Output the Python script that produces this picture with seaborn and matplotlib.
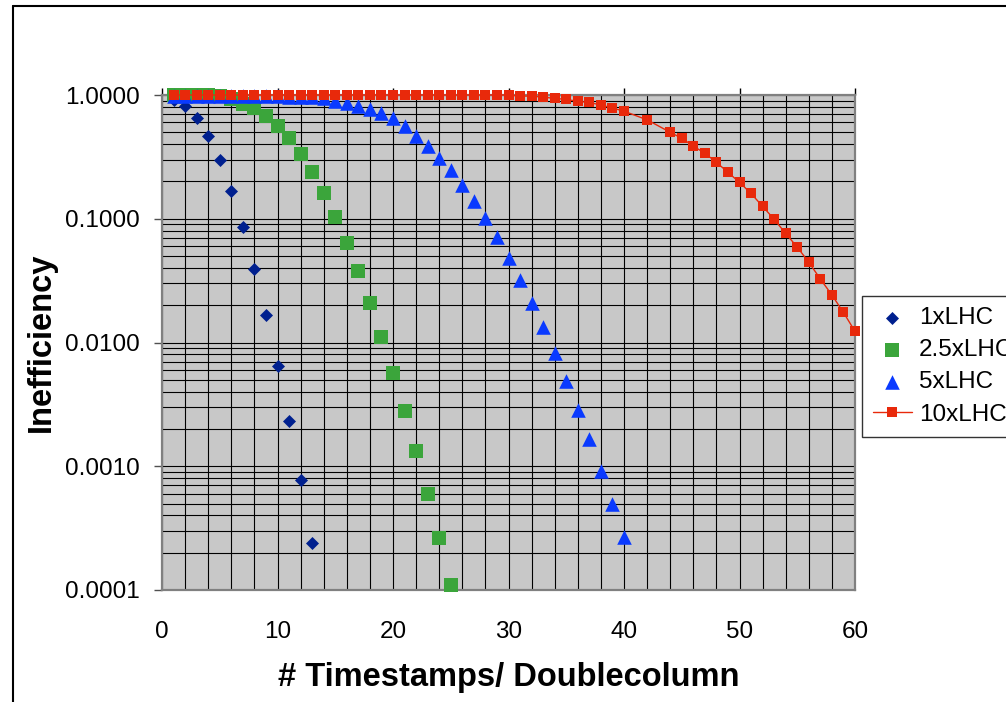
import matplotlib
matplotlib.use("Agg")
import matplotlib.pyplot as plt
from matplotlib.lines import Line2D
from matplotlib.ticker import MultipleLocator, LogLocator, NullFormatter, FuncFormatter
import seaborn as sns

# values (log scale)
x_1x = [1, 2, 3, 4, 5, 6, 7, 8, 9, 10, 11, 12, 13]
y_1x = [0.91, 0.82, 0.65, 0.47, 0.30, 0.168, 0.085, 0.039, 0.0167, 0.0065,
        0.00233, 0.00078, 0.00024]

x_25x = [1, 2, 3, 4, 5, 6, 7, 8, 9, 10, 11, 12, 13, 14, 15, 16, 17, 18, 19,
         20, 21, 22, 23, 24, 25]
y_25x = [1.0, 1.0, 1.0, 1.0, 0.98, 0.93, 0.85, 0.78, 0.68, 0.565, 0.447,
         0.334, 0.239, 0.162, 0.104, 0.064, 0.038, 0.021, 0.0111, 0.0057,
         0.0028, 0.00133, 0.0006, 0.000262, 0.00011]

x_5x = [1, 2, 3, 4, 5, 6, 7, 8, 9, 10, 11, 12, 13, 14, 15, 16, 17, 18, 19, 20,
        21, 22, 23, 24, 25, 26, 27, 28, 29, 30, 31, 32, 33, 34, 35, 36, 37, 38,
        39, 40]
y_5x = [0.99, 0.99, 0.99, 0.99, 0.99, 0.99, 0.99, 0.99, 0.99, 0.98, 0.97,
        0.97, 0.96, 0.94, 0.89, 0.86, 0.82, 0.77, 0.72, 0.65, 0.56, 0.47,
        0.39, 0.31, 0.248, 0.187, 0.14, 0.101, 0.071, 0.048, 0.032, 0.021,
        0.0133, 0.0082, 0.0049, 0.00285, 0.00165, 0.00092, 0.0005, 0.000267]

x_10x = [1, 2, 3, 4, 5, 6, 7, 8, 9, 10, 11, 12, 13, 14, 15, 16, 17, 18, 19,
         20, 21, 22, 23, 24, 25, 26, 27, 28, 29, 30, 31, 32, 33, 34, 35, 36,
         37, 38, 39, 40, 42, 44, 45, 46, 47, 48, 49, 50, 51, 52, 53, 54, 55,
         56, 57, 58, 59, 60]
y_10x = [1.0, 1.0, 1.0, 1.0, 1.0, 1.0, 1.0, 1.0, 1.0, 1.0, 1.0, 1.0, 1.0,
         1.0, 1.0, 1.0, 1.0, 1.0, 1.0, 1.0, 1.0, 1.0, 1.0, 1.0, 1.0, 1.0,
         1.0, 1.0, 1.0, 1.0, 0.98, 0.98, 0.96, 0.94, 0.92, 0.89, 0.87, 0.83,
         0.785, 0.74, 0.63, 0.50, 0.447, 0.387, 0.338, 0.286, 0.237, 0.197,
         0.160, 0.126, 0.099, 0.076, 0.059, 0.0445, 0.0326, 0.0242, 0.0175,
         0.0123]

labels = ["1xLHC", "2.5xLHC", "5xLHC", "10xLHC"]
colors = ["#00208F", "#3BA53B", "#0A3AFF", "#E8290B"]

sns.set_style("white")
plt.rcParams["font.family"] = ["Liberation Sans", "DejaVu Sans"]
plt.rcParams["text.color"] = "black"
plt.rcParams["axes.labelcolor"] = "black"

fig = plt.figure(figsize=(10.06, 7.02), dpi=100)
ax = fig.add_axes([162 / 1006, 1 - 590 / 702, (855 - 162) / 1006, (590 - 95) / 702])
ax.set_facecolor("#C8C8C8")

sns.scatterplot(x=x_1x, y=y_1x, marker="D", s=44, color=colors[0],
                linewidth=0, ax=ax, label=labels[0], clip_on=False, zorder=3)
sns.scatterplot(x=x_25x, y=y_25x, marker="s", s=100, color=colors[1],
                linewidth=0, ax=ax, label=labels[1], clip_on=False, zorder=4)
sns.scatterplot(x=x_5x, y=y_5x, marker="^", s=110, color=colors[2],
                linewidth=0, ax=ax, label=labels[2], clip_on=False, zorder=5)
sns.lineplot(x=x_10x, y=y_10x, marker="s", markersize=6.5, markeredgewidth=0,
             color=colors[3], linewidth=1, ax=ax, label=labels[3],
             clip_on=False, zorder=6)

ax.set_yscale("log")
ax.set_ylim(1e-4, 1)
ax.set_xlim(0, 60)

# grid: every 2 on x, every log sub-step on y
ax.xaxis.set_major_locator(MultipleLocator(10))
ax.xaxis.set_minor_locator(MultipleLocator(2))
ax.yaxis.set_major_locator(LogLocator(base=10))
ax.yaxis.set_minor_locator(LogLocator(base=10, subs=[2, 3, 4, 5, 6, 7, 8, 9]))
ax.yaxis.set_minor_formatter(NullFormatter())
ax.yaxis.set_major_formatter(FuncFormatter(lambda v, p: f"{v:.4f}"))
ax.grid(True, which="both", color="black", linewidth=0.8, zorder=1)
ax.set_axisbelow(True)

for side in ["left", "bottom", "right", "top"]:
    ax.spines[side].set_visible(True)
    ax.spines[side].set_color("#808080")
    ax.spines[side].set_linewidth(1.6)

ax.tick_params(axis="x", which="major", top=True, bottom=False,
               labeltop=False, labelbottom=True, direction="out",
               length=5, width=1, color="black", labelcolor="black",
               pad=17, labelsize=17.5)
ax.tick_params(axis="x", which="minor", top=False, bottom=False, length=0)
ax.tick_params(axis="y", which="major", left=True, direction="out",
               length=6, width=1, color="#505050", labelcolor="black",
               pad=10, labelsize=17.5)
ax.tick_params(axis="y", which="minor", left=False, length=0)

ax.set_xlabel("# Timestamps/ Doublecolumn", fontsize=23.5, fontweight="bold",
              labelpad=14)
ax.set_ylabel("Inefficiency", fontsize=23.5, fontweight="bold", labelpad=6)

handles, labs = ax.get_legend_handles_labels()
leg = ax.legend(handles, labs, loc="upper left",
                bbox_to_anchor=(862 / 1006, 1 - 296 / 702),
                bbox_transform=fig.transFigure, fontsize=17.5, frameon=True,
                fancybox=False, shadow=False, borderpad=0.45,
                labelspacing=0.42, handlelength=1.6, handletextpad=0.3,
                borderaxespad=0)
leg.get_frame().set_edgecolor("black")
leg.get_frame().set_linewidth(1.0)
leg.get_frame().set_facecolor("white")

# outer chart frame (cut off at right and bottom)
fig.add_artist(Line2D([13 / 1006, 13 / 1006], [0, 1 - 6 / 702],
                      transform=fig.transFigure, color="black", linewidth=1.5))
fig.add_artist(Line2D([13 / 1006, 1], [1 - 6 / 702, 1 - 6 / 702],
                      transform=fig.transFigure, color="black", linewidth=1.5))

fig.savefig("out.png", dpi=100)
